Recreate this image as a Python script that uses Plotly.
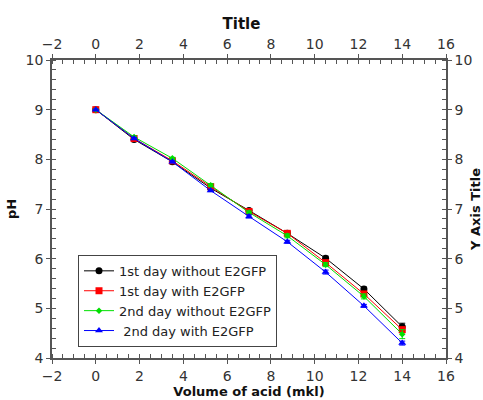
import plotly.graph_objects as go

volume = [0, 1.75, 3.5, 5.25, 7, 8.75, 10.5, 12.25, 14]
ph_day1_without = [9.0, 8.40, 7.95, 7.42, 6.97, 6.51, 6.01, 5.39, 4.63]
ph_day1_with = [9.0, 8.42, 7.97, 7.45, 6.95, 6.51, 5.92, 5.29, 4.57]
ph_day2_without = [9.0, 8.45, 8.02, 7.48, 6.93, 6.46, 5.88, 5.24, 4.48]
ph_day2_with = [9.0, 8.42, 7.95, 7.37, 6.85, 6.34, 5.73, 5.05, 4.30]
err_day1_without = [0.01, 0.02, 0.02, 0.02, 0.03, 0.03, 0.04, 0.04, 0.07]
err_day1_with = [0.01, 0.02, 0.02, 0.02, 0.03, 0.03, 0.04, 0.04, 0.05]
err_day2_without = [0.01, 0.02, 0.02, 0.03, 0.03, 0.04, 0.04, 0.05, 0.09]
err_day2_with = [0.01, 0.02, 0.02, 0.02, 0.03, 0.03, 0.04, 0.03, 0.04]

names = ["1st day without E2GFP", "1st day with E2GFP", "2nd day without E2GFP", " 2nd day with E2GFP"]
colors = ["#000000", "#ff0000", "#00e000", "#0000ff"]
symbols = ["circle", "square", "diamond", "triangle-up"]
sizes = [7, 7, 5, 7]
series = [ph_day1_without, ph_day1_with, ph_day2_without, ph_day2_with]
errors = [err_day1_without, err_day1_with, err_day2_without, err_day2_with]

fig = go.Figure()
for n, c, s, sz, y, e in zip(names, colors, symbols, sizes, series, errors):
    fig.add_trace(go.Scatter(
        x=volume, y=y, name=n, mode="lines+markers",
        line=dict(color=c, width=1),
        marker=dict(color=c, symbol=s, size=sz),
        error_y=dict(type="data", array=e, visible=True, color=c, thickness=1, width=3),
    ))

# dummy traces to activate overlay axes
fig.add_trace(go.Scatter(x=[None], y=[None], xaxis="x2", yaxis="y2", showlegend=False, hoverinfo="skip"))
fig.add_trace(go.Scatter(x=[None], y=[None], xaxis="x3", yaxis="y3", showlegend=False, hoverinfo="skip"))

font = "DejaVu Sans, sans-serif"
lc = "#555555"
tc = "#333333"
xr = [-2, 16]
yr = [4, 10]

common_x = dict(range=xr, dtick=2, tick0=0, showgrid=False, zeroline=False, automargin=False,
                showline=True, linecolor=lc, linewidth=1.5,
                ticks="outside", ticklen=4, tickwidth=1, tickcolor=lc,
                minor=dict(dtick=0.5, tick0=0, ticks="inside", ticklen=4, tickwidth=1, tickcolor=lc),
                tickfont=dict(family=font, size=14, color=tc))
common_y = dict(range=yr, dtick=1, tick0=0, showgrid=False, zeroline=False, automargin=False,
                showline=True, linecolor=lc, linewidth=1.5,
                ticks="outside", ticklen=4, tickwidth=1, tickcolor=lc,
                minor=dict(dtick=0.2, tick0=0, ticks="inside", ticklen=4, tickwidth=1, tickcolor=lc),
                tickfont=dict(family=font, size=14, color=tc))

fig.update_layout(
    width=483, height=400,
    margin=dict(l=52, r=37, t=60, b=42),
    paper_bgcolor="white", plot_bgcolor="white",
    font=dict(family=font, color=tc),
    title=dict(text="<b>Title</b>", x=0.5, xanchor="center", y=0.94, yanchor="middle",
               font=dict(family=font, size=15, color="#111111")),
    showlegend=True,
    legend=dict(x=0.066, y=0.346, xanchor="left", yanchor="top",
                bgcolor="white", bordercolor="#444444", borderwidth=1,
                font=dict(family=font, size=13, color="#222222"),
                tracegroupgap=0, itemwidth=30),
    xaxis=dict(**common_x, side="bottom",
               title=dict(text="<b>Volume of acid (mkl)</b>", standoff=2,
                          font=dict(family=font, size=13, color="#111111"))),
    xaxis2=dict(**common_x, side="top", overlaying="x", anchor="y"),
    xaxis3=dict(range=xr, dtick=2, tick0=0, showgrid=False, zeroline=False, showline=False,
                overlaying="x", anchor="y", side="bottom", ticks="inside", ticklen=4,
                tickwidth=1, tickcolor=lc, mirror="ticks", showticklabels=False),
    yaxis=dict(**common_y, side="left",
               title=dict(text="<b>pH</b>", standoff=6,
                          font=dict(family=font, size=13, color="#111111"))),
    yaxis2=dict(**common_y, side="right", overlaying="y", anchor="x",
                title=dict(text="<b>Y Axis Title</b>", standoff=4,
                           font=dict(family=font, size=13, color="#111111"))),
    yaxis3=dict(range=yr, dtick=1, tick0=0, showgrid=False, zeroline=False, showline=False,
                overlaying="y", anchor="x", side="left", ticks="inside", ticklen=4,
                tickwidth=1, tickcolor=lc, mirror="ticks", showticklabels=False),
)

fig.write_html("out.html", config={"displayModeBar": False},
               post_script="document.body.style.margin='0';document.body.style.overflow='hidden';")
